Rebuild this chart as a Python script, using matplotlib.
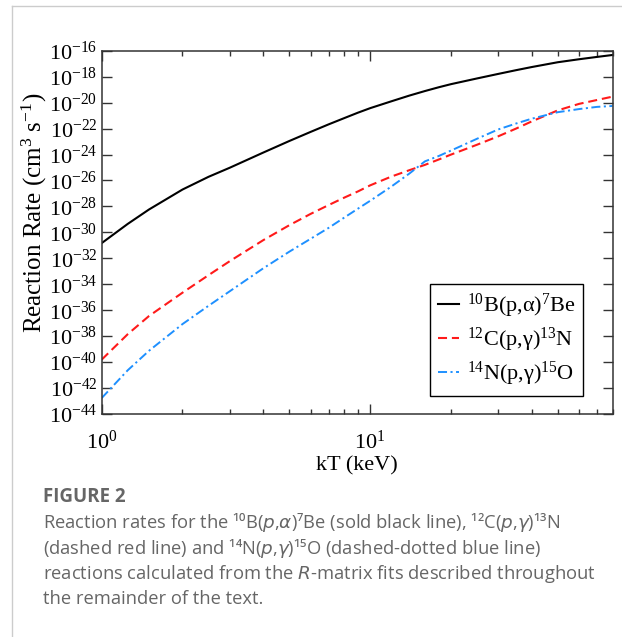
import matplotlib
matplotlib.use("Agg")
import matplotlib.pyplot as plt
import numpy as np
from matplotlib.lines import Line2D
from matplotlib.ticker import FixedLocator, LogLocator, NullFormatter, NullLocator

# ---------------- data ----------------
kT = [1, 1.25, 1.5, 2, 2.5, 3, 4, 5, 6, 7, 8, 9, 10, 12, 14, 16, 18, 20,
      25, 30, 35, 40, 50, 60, 70, 80]

# log10 of the reaction rate (cm^3 s^-1)
log_B10 = [-30.83, -29.35, -28.24, -26.70, -25.72, -25.02, -23.85, -22.96,
           -22.26, -21.68, -21.20, -20.78, -20.43, -19.90, -19.46, -19.11,
           -18.82, -18.58, -18.14, -17.79, -17.50, -17.26, -16.89, -16.66,
           -16.48, -16.33]
log_C12 = [-39.81, -37.85, -36.45, -34.65, -33.30, -32.22, -30.60, -29.45,
           -28.58, -27.90, -27.33, -26.85, -26.38, -25.70, -25.21, -24.80,
           -24.39, -24.01, -23.25, -22.60, -22.00, -21.45, -20.60, -20.10,
           -19.80, -19.54]
log_N14 = [-42.77, -40.63, -39.13, -37.07, -35.66, -34.54, -32.77, -31.49,
           -30.50, -29.66, -28.87, -28.18, -27.57, -26.47, -25.47, -24.53,
           -24.12, -23.70, -22.79, -22.07, -21.61, -21.24, -20.74, -20.50,
           -20.33, -20.26]

labels = [r'$^{10}$B(p,α)$^{7}$Be', r'$^{12}$C(p,γ)$^{13}$N', r'$^{14}$N(p,γ)$^{15}$O']
ytick_exps = list(range(-44, -15, 2))

caption_title = "FIGURE 2"
caption_lines = [
    "Reaction rates for the ¹⁰B($p$,$\\alpha$)⁷Be (sold black line), ¹²C($p$,$\\gamma$)¹³N",
    "(dashed red line) and ¹⁴N($p$,$\\gamma$)¹⁵O (dashed-dotted blue line)",
    "reactions calculated from the $R$-matrix fits described throughout",
    "the remainder of the text.",
]

# ---------------- style ----------------
plt.rcParams['font.family'] = ['Liberation Serif', 'DejaVu Serif']
plt.rcParams['mathtext.fontset'] = 'custom'
plt.rcParams['mathtext.rm'] = 'Liberation Serif'
plt.rcParams['mathtext.it'] = 'Liberation Serif:italic'
plt.rcParams['mathtext.bf'] = 'Liberation Serif:bold'
plt.rcParams['axes.unicode_minus'] = False
plt.rcParams['lines.scale_dashes'] = False

fig = plt.figure(figsize=(6.22, 6.37), dpi=100)
ax = fig.add_axes([101.7 / 622, 1 - 414 / 637, (612.5 - 101.7) / 622, (414 - 50.7) / 637])

x = np.array(kT)
ax.plot(x, 10.0 ** np.array(log_B10), color='black', lw=1.5, label=labels[0])
ax.plot(x, 10.0 ** np.array(log_C12), color='#ff1a1a', lw=1.5,
        dashes=(6.5, 3.5), label=labels[1])
ax.plot(x, 10.0 ** np.array(log_N14), color='#1e90ff', lw=1.4,
        dashes=(6.5, 2.5, 1.5, 2.5), label=labels[2])

ax.set_xscale('log')
ax.set_yscale('log')
ax.set_xlim(1, 80)
ax.set_ylim(1e-44, 1e-16)

ax.yaxis.set_major_locator(FixedLocator([10.0 ** e for e in ytick_exps]))
ax.yaxis.set_minor_locator(NullLocator())
ax.xaxis.set_major_locator(LogLocator(base=10, numticks=5))
ax.xaxis.set_minor_locator(LogLocator(base=10, subs=np.arange(2, 10), numticks=20))
ax.xaxis.set_minor_formatter(NullFormatter())

for s in ax.spines.values():
    s.set_linewidth(1.1)
    s.set_color('#333333')

ax.tick_params(axis='both', which='major', direction='in', length=7.5, width=1.0,
               color='#333333', labelsize=16, top=True, right=True)
ax.tick_params(axis='both', which='minor', direction='in', length=3.5, width=1.0,
               color='#333333', top=True, right=True)
ax.tick_params(axis='x', which='major', pad=12)
ax.tick_params(axis='y', which='major', pad=3)

ax.set_xlabel('kT (keV)', fontsize=16, labelpad=2)
ax.set_ylabel(r'Reaction Rate (cm$^{3}$ s$^{-1}$)', fontsize=18)
ax.yaxis.set_label_coords(-0.103, 0.553)

leg = ax.legend(loc='upper left', bbox_to_anchor=(0.6425, 0.357), borderaxespad=0,
                fontsize=16, handlelength=0.95, handletextpad=0.35, labelspacing=0.25,
                borderpad=0.35, fancybox=False, framealpha=1)
leg.get_frame().set_edgecolor('black')
leg.get_frame().set_linewidth(1.0)

# page frame lines
fig.add_artist(Line2D([12 / 622, 12 / 622], [0, 1 - 6 / 637], color='#cccccc', lw=1.0,
                      transform=fig.transFigure))
fig.add_artist(Line2D([12 / 622, 1], [1 - 6 / 637, 1 - 6 / 637], color='#cccccc', lw=1.0,
                      transform=fig.transFigure))

# caption
fig.text(43 / 622, 1 - 497 / 637, caption_title, fontsize=13.5, fontweight='bold',
         color='#666666', family=['Open Sans', 'DejaVu Sans'], va='center', ha='left')
for i, line in enumerate(caption_lines):
    fig.text(43 / 622, 1 - (523 + 25.3 * i) / 637, line, fontsize=13.2, color='#666666',
             family=['Open Sans', 'DejaVu Sans'], math_fontfamily='dejavusans',
             va='center', ha='left')

fig.savefig('out.png', dpi=100)
